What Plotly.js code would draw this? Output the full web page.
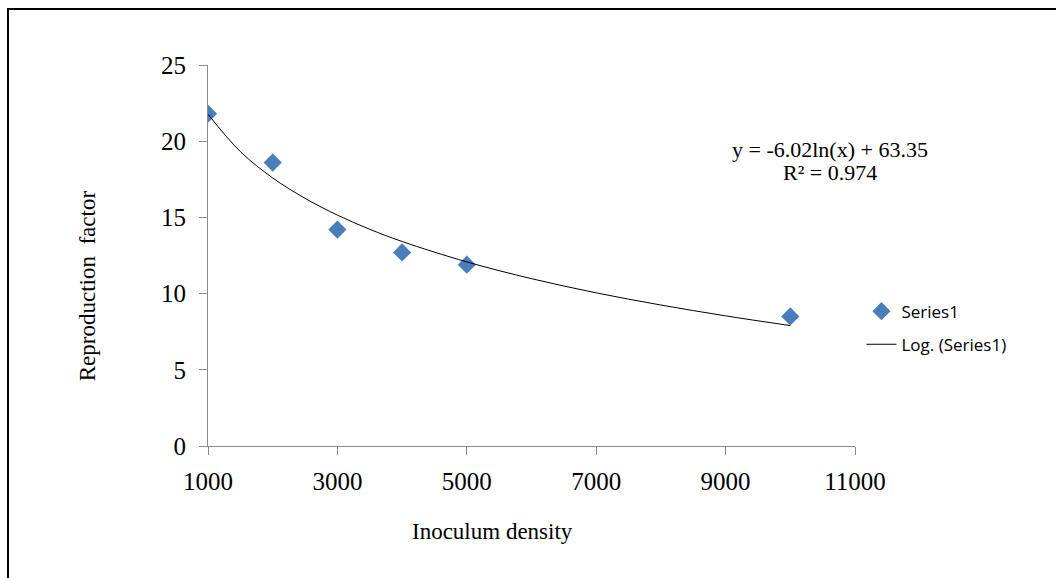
<!DOCTYPE html>
<html>
<head>
<meta charset="utf-8">
<script src="https://cdn.plot.ly/plotly-3.0.1.min.js"></script>
<style>
html,body{margin:0;padding:0;background:#fff;}
#chart{width:1056px;height:578px;}
#frame{position:absolute;left:7px;top:8px;width:1049px;height:570px;border-top:2px solid #000;border-left:2px solid #000;pointer-events:none;box-sizing:border-box;}
</style>
</head>
<body>
<div id="chart"></div>
<div id="frame"></div>
<script>
// Observed data
const inoculum = [1000, 2000, 3000, 4000, 5000, 10000];
const reproduction = [21.8, 18.6, 14.2, 12.7, 11.9, 8.5];

// Logarithmic trendline, values
const trendX = [1000, 1500, 2000, 2500, 3000, 3500, 4000, 5000, 6000, 7000, 8000, 9000, 10000];
const trendY = [21.77, 19.32, 17.59, 16.25, 15.15, 14.22, 13.42, 12.08, 10.98, 10.05, 9.25, 8.54, 7.90];

const xTicks = [1000, 3000, 5000, 7000, 9000, 11000];
const yTicks = [0, 5, 10, 15, 20, 25];

const serif = "Liberation Serif, Times New Roman, serif";
const sans = "Open Sans, Liberation Sans, sans-serif";

const traces = [
  {
    x: inoculum, y: reproduction, type: 'scatter', mode: 'markers', name: 'Series1',
    legendgroup: 'a',
    marker: {symbol: 'diamond', size: 14, color: '#4A7EBB'}
  },
  {
    x: trendX, y: trendY, type: 'scatter', mode: 'lines', name: 'Log. (Series1)',
    legendgroup: 'b',
    line: {color: '#000', width: 1, shape: 'spline'}
  }
];

const layout = {
  width: 1056, height: 578,
  margin: {l: 208, r: 201, t: 65, b: 132},
  paper_bgcolor: '#fff', plot_bgcolor: '#fff',
  showlegend: true,
  legend: {
    x: 1.01, y: 0.40, xanchor: 'left', yanchor: 'top',
    font: {family: sans, size: 17, color: '#000'},
    tracegroupgap: 8, traceorder: 'grouped',
    bgcolor: 'rgba(0,0,0,0)'
  },
  xaxis: {
    range: [1000, 11000], tickvals: xTicks, ticktext: xTicks.map(String),
    showgrid: false, zeroline: false, showline: true, linecolor: '#8c8c8c', linewidth: 1,
    ticks: 'outside', ticklen: 8, tickcolor: '#8c8c8c',
    ticklabelstandoff: 5,
    tickfont: {family: serif, size: 25, color: '#000'}
  },
  yaxis: {
    range: [0, 25], tickvals: yTicks, ticktext: yTicks.map(String),
    showgrid: false, zeroline: false, showline: true, linecolor: '#8c8c8c', linewidth: 1,
    ticks: 'outside', ticklen: 8, tickcolor: '#8c8c8c',
    ticklabelstandoff: 8,
    tickfont: {family: serif, size: 25, color: '#000'}
  },
  annotations: [
    {xref: 'paper', yref: 'paper', x: 0.961, y: 0.777, xanchor: 'center', yanchor: 'middle',
     showarrow: false, text: 'y = -6.02ln(x) + 63.35',
     font: {family: serif, size: 22, color: '#000'}},
    {xref: 'paper', yref: 'paper', x: 0.961, y: 0.719, xanchor: 'center', yanchor: 'middle',
     showarrow: false, text: 'R² = 0.974',
     font: {family: serif, size: 22, color: '#000'}},
    {xref: 'paper', yref: 'paper', x: -0.185, y: 0.42, xanchor: 'center', yanchor: 'middle',
     textangle: -90, showarrow: false, text: 'Reproduction  factor',
     font: {family: serif, size: 23, color: '#000'}},
    {xref: 'paper', yref: 'paper', x: 0.44, y: -0.225, xanchor: 'center', yanchor: 'middle',
     showarrow: false, text: 'Inoculum density',
     font: {family: serif, size: 23, color: '#000'}}
  ]
};

Plotly.newPlot('chart', traces, layout, {displayModeBar: false, staticPlot: true});
</script>
</body>
</html>
